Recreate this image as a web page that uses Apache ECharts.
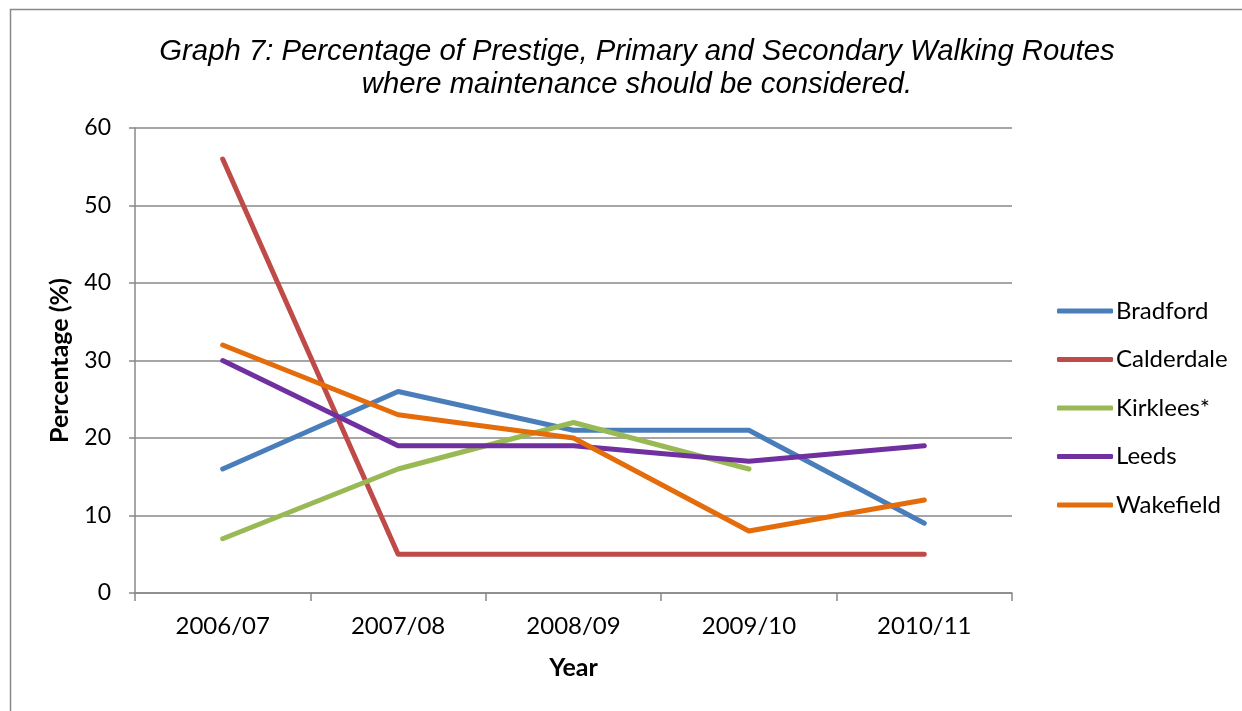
<!DOCTYPE html>
<html><head><meta charset="utf-8">
<script src="https://cdn.jsdelivr.net/npm/echarts@6/dist/echarts.min.js"></script>
<style>html,body{margin:0;padding:0;background:#fff}#c{width:1242px;height:711px}</style>
</head><body><div id="c"></div>
<script>
const categories = ['2006/07','2007/08','2008/09','2009/10','2010/11'];
const bradford = [16, 26, 21, 21, 9];
const calderdale = [56, 5, 5, 5, 5];
const kirklees = [7, 16, 22, 16, null];
const leeds = [30, 19, 19, 17, 19];
const wakefield = [32, 23, 20, 8, 12];
const seriesNames = ['Bradford','Calderdale','Kirklees*','Leeds','Wakefield'];
const seriesData = [bradford, calderdale, kirklees, leeds, wakefield];
const colors = ['#4A7EBB','#BE4B48','#98B954','#7030A0','#E46C0A'];
const font = 'Lato, "Open Sans", sans-serif';
const chart = echarts.init(document.getElementById('c'));
chart.setOption({
  animation:false,
  color: colors,
  graphic:[{type:'rect',shape:{x:10.5,y:9.5,width:1240,height:720},style:{fill:'none',stroke:'#888',lineWidth:1.5},silent:true}],
  title:{text:'Graph 7: Percentage of Prestige, Primary and Secondary Walking Routes\nwhere maintenance should be considered.',
    left:632, top:30, textAlign:'center',
    textStyle:{fontFamily:'"Liberation Sans", Arial, sans-serif',fontStyle:'italic',fontWeight:'normal',fontSize:29.3,lineHeight:33,color:'#000'}},
  legend:{orient:'vertical',left:1052,top:294,itemGap:24.5,itemWidth:56,itemHeight:5,
    icon:'roundRect',
    data:seriesNames,
    textStyle:{fontFamily:font,fontSize:24,color:'#000',padding:[0,0,0,-2]}},
  grid:{left:135,right:230,top:128,bottom:118},
  xAxis:{type:'category',data:categories,boundaryGap:true,
    name:'Year',nameLocation:'middle',nameGap:62,
    nameTextStyle:{fontFamily:font,fontSize:25,fontWeight:'bold',color:'#000'},
    axisLine:{lineStyle:{color:'#888',width:1.5}},
    axisTick:{show:true,length:8,lineStyle:{color:'#888',width:1.5}},
    axisLabel:{fontFamily:font,fontSize:24,color:'#000',margin:21}},
  yAxis:{type:'value',min:0,max:60,interval:10,
    name:'Percentage (%)',nameLocation:'middle',nameGap:63,
    nameTextStyle:{fontFamily:font,fontSize:25,fontWeight:'bold',color:'#000'},
    axisLine:{show:true,lineStyle:{color:'#888',width:1.5}},
    axisTick:{show:true,length:6,lineStyle:{color:'#888',width:1.5}},
    splitLine:{lineStyle:{color:'#888',width:1.5}},
    axisLabel:{fontFamily:font,fontSize:23,color:'#000',margin:24}},
  series: seriesNames.map((n,i)=>({name:n,type:'line',data:seriesData[i],symbol:'none',
    lineStyle:{width:5,color:colors[i],cap:'round',join:'round'},itemStyle:{color:colors[i]}}))
});
</script></body></html>
